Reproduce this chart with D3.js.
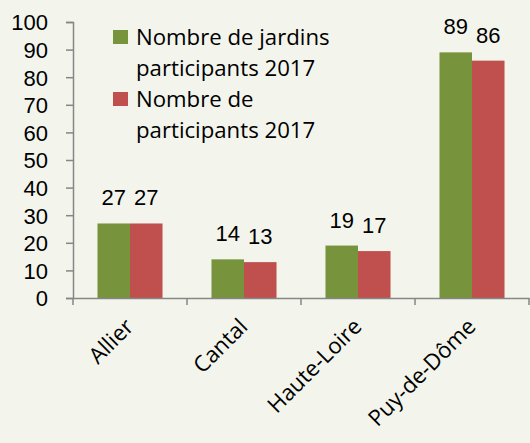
<!DOCTYPE html>
<html><head><meta charset="utf-8">
<script src="https://cdn.jsdelivr.net/npm/d3@7"></script>
<style>body{margin:0;background:#F3F5EC;} svg{display:block;}</style>
</head><body>
<svg id="c" width="530" height="443"></svg>
<script>
const categories = ["Allier", "Cantal", "Haute-Loire", "Puy-de-Dôme"];
const seriesNames = ["Nombre de jardins participants 2017", "Nombre de participants 2017"];
const jardins = [27, 14, 19, 89];
const participants = [27, 13, 17, 86];
const yTicks = [0, 10, 20, 30, 40, 50, 60, 70, 80, 90, 100];
const legendLines = [["Nombre de jardins", "participants 2017"], ["Nombre de", "participants 2017"]];
const colors = ["#77933C", "#C0504D"];

const font = "'Open Sans', sans-serif";
const numFont = "'Liberation Sans', Arial, sans-serif";
const fs = 22.2;
const svg = d3.select("#c");
svg.append("rect").attr("width", 530).attr("height", 443).attr("fill", "#F3F5EC");

const x = d3.scaleBand().domain(categories).range([73, 529]).paddingInner(0).paddingOuter(0);
const y = d3.scaleLinear().domain([0, 100]).range([298, 22]);
const inner = d3.scaleBand().domain([0, 1]).range([0, x.bandwidth()]).paddingInner(0).paddingOuter(0.753);

// bars
const series = [jardins, participants];
series.forEach((vals, si) => {
  svg.append("g").selectAll("rect").data(vals).join("rect")
    .attr("x", (d, i) => x(categories[i]) + inner(si))
    .attr("y", d => y(d))
    .attr("width", inner.bandwidth())
    .attr("height", d => y(0) - y(d))
    .attr("fill", colors[si]);
  svg.append("g").selectAll("text").data(vals).join("text")
    .attr("x", (d, i) => x(categories[i]) + inner(si) + inner.bandwidth() / 2)
    .attr("y", d => y(d) - 18)
    .attr("text-anchor", "middle")
    .attr("font-family", numFont).attr("font-size", 22).attr("fill", "#000")
    .text(d => d);
});

// y axis
const yAxis = svg.append("g").attr("transform", "translate(73,0)")
  .call(d3.axisLeft(y).tickValues(yTicks).tickSize(7).tickPadding(18));
yAxis.select(".domain").attr("stroke", "#868686").attr("stroke-width", 1.5);
yAxis.selectAll(".tick line").attr("stroke", "#868686").attr("stroke-width", 1.5);
yAxis.selectAll(".tick text").attr("font-family", numFont).attr("font-size", 22).attr("fill", "#000").attr("dy", "0.36em");

// x axis
const xAxis = svg.append("g").attr("transform", "translate(0,298)")
  .call(d3.axisBottom(x).tickSize(0).tickFormat(""));
xAxis.select(".domain").attr("stroke", "#868686").attr("stroke-width", 1.5);
const bounds = categories.map(c => x(c)).concat([x.range()[1]]);
svg.append("g").selectAll("line").data(bounds).join("line")
  .attr("x1", d => d).attr("x2", d => d).attr("y1", 298).attr("y2", 305)
  .attr("stroke", "#868686").attr("stroke-width", 1.5);
svg.append("g").selectAll("text").data(categories).join("text")
  .attr("transform", c => `translate(${x(c) + x.bandwidth() / 2 + 5},328) rotate(-45)`)
  .attr("text-anchor", "end")
  .attr("font-family", font).attr("font-size", fs).attr("fill", "#000")
  .text(c => c);

// legend
const lg = svg.append("g");
legendLines.forEach((lines, i) => {
  const top = i === 0 ? 30 : 92;
  lg.append("rect").attr("x", 113).attr("y", top).attr("width", 15).attr("height", 14).attr("fill", colors[i]);
  lines.forEach((t, j) => {
    lg.append("text").attr("x", 136).attr("y", top + 15 + j * 30.5)
      .attr("font-family", font).attr("font-size", fs).attr("fill", "#000").text(t);
  });
});
</script>
</body></html>
